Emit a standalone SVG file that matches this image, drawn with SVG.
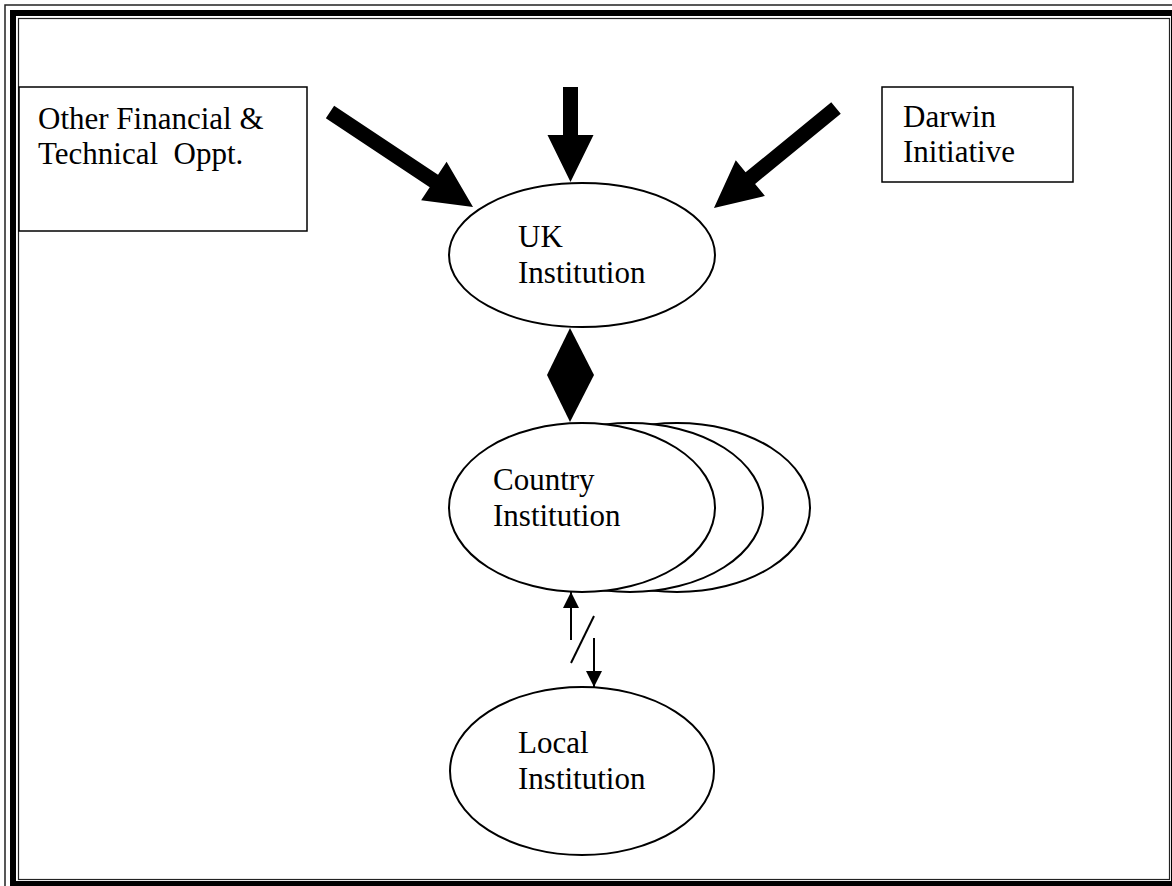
<svg xmlns="http://www.w3.org/2000/svg" width="1172" height="886" viewBox="0 0 1172 886">
<defs>
<style>
text{font-family:"Liberation Serif","Times New Roman",serif;font-size:31px;fill:#000;white-space:pre}
.box{fill:#fff;stroke:#000;stroke-width:1.5}
.ell{fill:#fff;stroke:#000;stroke-width:2}
.big{fill:#000}
.thin{stroke:#000;stroke-width:2;fill:none}
</style>
<marker id="ah2" viewBox="0 0 16 16" refX="16" refY="8" markerWidth="16" markerHeight="16" markerUnits="userSpaceOnUse" orient="auto">
<path d="M0,0 L16,8 L0,16 Z" fill="#000"/>
</marker>
</defs>
<rect width="1172" height="886" fill="#fff"/>
<g id="frame">
<rect x="5" y="5" width="1178" height="888" fill="none" stroke="#222" stroke-width="1.5"/>
<rect x="13" y="13" width="1161" height="871" fill="none" stroke="#000" stroke-width="6"/>
<rect x="18.5" y="18.5" width="1151" height="861" fill="none" stroke="#222" stroke-width="1.2"/>
</g>
<g id="connectors">
<path class="big" transform="translate(570.5,87) rotate(90)" d="M0,-7.5 L48,-7.5 L48,-23 L95,0 L48,23 L48,7.5 L0,7.5 Z"/>
<path class="big" transform="translate(330,112) rotate(33.6)" d="M0,-7.5 L124.7,-7.5 L124.7,-23 L171.7,0 L124.7,23 L124.7,7.5 L0,7.5 Z"/>
<path class="big" transform="translate(836,108) rotate(140.7)" d="M0,-7.5 L110.7,-7.5 L110.7,-23 L157.7,0 L110.7,23 L110.7,7.5 L0,7.5 Z"/>
<path class="big" d="M570,328 L594,375 L570,422 L547,375 Z"/>
<line class="thin" x1="571" y1="640" x2="571" y2="592" marker-end="url(#ah2)"/>
<line class="thin" x1="594" y1="638" x2="594" y2="687" marker-end="url(#ah2)"/>
<line class="thin" x1="594" y1="616" x2="571" y2="663"/>
</g>
<g id="other">
<rect class="box" x="19" y="87" width="288" height="144"/>
<text x="38" y="129">Other Financial &amp;</text>
<text x="38" y="164">Technical  Oppt.</text>
</g>
<g id="darwin">
<rect class="box" x="882" y="87" width="191" height="95"/>
<text x="903" y="127">Darwin</text>
<text x="903" y="162">Initiative</text>
</g>
<g id="uk">
<ellipse class="ell" cx="582" cy="255" rx="133" ry="72"/>
<text x="518" y="247">UK</text>
<text x="518" y="283">Institution</text>
</g>
<g id="country">
<ellipse class="ell" cx="677" cy="507.5" rx="133" ry="84.5"/>
<ellipse class="ell" cx="630" cy="507.5" rx="133" ry="84.5"/>
<ellipse class="ell" cx="582" cy="507.5" rx="133" ry="84.5"/>
<text x="493" y="490">Country</text>
<text x="493" y="526">Institution</text>
</g>
<g id="local">
<ellipse class="ell" cx="582" cy="771" rx="132" ry="84"/>
<text x="518" y="753">Local</text>
<text x="518" y="789">Institution</text>
</g>
</svg>
